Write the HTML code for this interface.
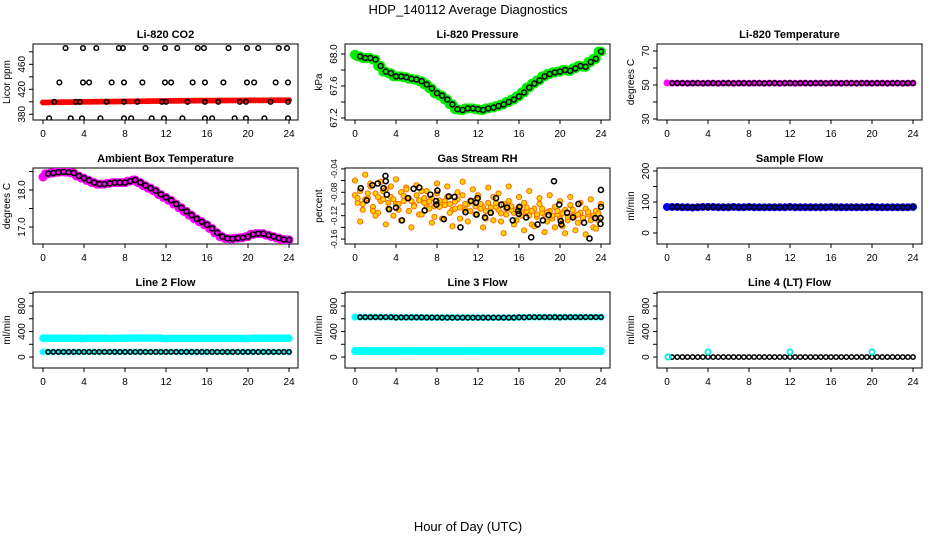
<!DOCTYPE html>
<html><head><meta charset="utf-8">
<style>
html,body{margin:0;padding:0;background:#fff;}
svg{display:block;font-family:"Liberation Sans",sans-serif;}
</style></head>
<body>
<svg id="chart" width="936" height="540" viewBox="0 0 936 540" xmlns="http://www.w3.org/2000/svg">
<text x="468" y="14" text-anchor="middle" font-size="13">HDP_140112  Average Diagnostics</text>
<text x="468" y="531" text-anchor="middle" font-size="13">Hour of Day (UTC)</text>
</svg>
<script>
// shared time categories (hours)
const hours = [0,0.5,1,1.5,2,2.5,3,3.5,4,4.5,5,5.5,6,6.5,7,7.5,8,8.5,9,9.5,10,10.5,11,11.5,12,12.5,13,13.5,14,14.5,15,15.5,16,16.5,17,17.5,18,18.5,19,19.5,20,20.5,21,21.5,22,22.5,23,23.5,24];
const hoursOff = [0.25,0.75,1.25,1.75,2.25,2.75,3.25,3.75,4.25,4.75,5.25,5.75,6.25,6.75,7.25,7.75,8.25,8.75,9.25,9.75,10.25,10.75,11.25,11.75,12.25,12.75,13.25,13.75,14.25,14.75,15.25,15.75,16.25,16.75,17.25,17.75,18.25,18.75,19.25,19.75,20.25,20.75,21.25,21.75,22.25,22.75,23.25,23.75];
const xTicks = [0,4,8,12,16,20,24];

// Li-820 CO2
const co2Band = [399,399,399.2,399.4,399.5,399.5,399.6,399.8,400,400,400.1,400.2,400.3,400.3,400.4,400.5,400.6,400.7,400.8,400.9,401,401.1,401.2,401.3,401.4,401.5,401.6,401.7,401.8,401.8,401.9,401.9,402,402,402,402.1,402.1,402.2,402.2,402.2,402.3,402.3,402.4,402.4,402.4,402.5,402.5,402.5,402.6];
const co2OutHours = [2.2,3.9,5.2,7.4,7.8,10,11.9,13.1,15.1,15.7,18.1,19.9,21,23,23.8, 1.6,3.9,4.5,6.7,7.9,9.7,11.9,12.5,14.6,15.8,17.6,19.9,20.6,22.7,23.9, 1.1,3.2,3.6,6.2,7.9,9.2,11.6,12,14.1,15.8,17.1,19.2,19.8,22.2,23.9, 0.6,2.7,3.8,5.6,7.9,8.6,10.6,11.8,13.6,15.8,16.5,18.7,19.8,21.6,23.9];
const co2OutVals = [486,486,486,486,486,486,486,486,486,486,486,486,486,486,486, 431,431,431,431,431,431,431,431,431,431,431,431,431,431,431, 400,400,400,400,400,400,400,400,400,400,400,400,400,400,400, 373.6,373.6,373.6,373.6,373.6,373.6,373.6,373.6,373.6,373.6,373.6,373.6,373.6,373.6,373.6];

// Li-820 Pressure
const presVals = [67.99,67.97,67.95,67.95,67.93,67.85,67.78,67.76,67.72,67.72,67.71,67.69,67.68,67.66,67.62,67.57,67.51,67.48,67.43,67.37,67.31,67.3,67.32,67.32,67.31,67.3,67.32,67.33,67.35,67.37,67.4,67.43,67.47,67.52,67.58,67.63,67.67,67.72,67.75,67.77,67.78,67.8,67.79,67.82,67.85,67.84,67.9,67.94,68.03];

// Li-820 Temperature
const tempVals = [51.2,51.1,51.1,51.1,51.0,51.1,51.1,51.0,51.1,51.1,51.0,51.1,51.1,51.0,51.1,51.1,51.0,51.1,51.1,51.0,51.1,51.1,51.0,51.1,51.1,51.0,51.1,51.1,51.0,51.1,51.1,51.0,51.1,51.1,51.0,51.1,51.1,51.0,51.1,51.1,51.0,51.1,51.1,51.0,51.1,51.1,51.0,51.1,51.1];

// Ambient Box Temperature
const ambVals = [18.35,18.44,18.46,18.48,18.49,18.48,18.46,18.38,18.32,18.26,18.2,18.16,18.16,18.18,18.2,18.2,18.2,18.24,18.27,18.2,18.12,18.05,17.98,17.88,17.8,17.72,17.62,17.52,17.42,17.32,17.22,17.14,17.06,16.96,16.84,16.74,16.69,16.68,16.7,16.71,16.74,16.8,16.82,16.82,16.78,16.74,16.7,16.66,16.65];

// Gas Stream RH
const rhA = [-0.085,-0.078,-0.092,-0.070,-0.082,-0.095,-0.075,-0.088,-0.100,-0.080,-0.072,-0.095,-0.085,-0.078,-0.105,-0.090,-0.082,-0.098,-0.088,-0.110,-0.092,-0.085,-0.100,-0.095,-0.090,-0.105,-0.098,-0.088,-0.110,-0.100,-0.095,-0.115,-0.105,-0.098,-0.120,-0.108,-0.100,-0.118,-0.112,-0.105,-0.125,-0.110,-0.102,-0.120,-0.115,-0.108,-0.128,-0.112,-0.100];
const rhB = [-0.098,-0.110,-0.090,-0.105,-0.115,-0.092,-0.108,-0.120,-0.100,-0.095,-0.112,-0.102,-0.118,-0.098,-0.108,-0.122,-0.105,-0.095,-0.115,-0.108,-0.125,-0.100,-0.112,-0.118,-0.108,-0.125,-0.115,-0.105,-0.130,-0.118,-0.110,-0.128,-0.120,-0.112,-0.135,-0.122,-0.115,-0.130,-0.125,-0.118,-0.138,-0.128,-0.120,-0.132,-0.125,-0.118,-0.140,-0.128];
const rhC = [-0.060,-0.130,-0.050,-0.065,-0.120,-0.062,-0.135,-0.070,-0.058,-0.128,-0.075,-0.140,-0.068,-0.118,-0.078,-0.132,-0.065,-0.125,-0.070,-0.138,-0.080,-0.062,-0.130,-0.075,-0.085,-0.140,-0.072,-0.128,-0.082,-0.150,-0.070,-0.135,-0.088,-0.145,-0.078,-0.138,-0.090,-0.148,-0.085,-0.140,-0.095,-0.150,-0.088,-0.145,-0.098,-0.152,-0.092,-0.142,-0.100];
const rhD = [-0.090,-0.100,-0.082,-0.112,-0.088,-0.078,-0.098,-0.092,-0.110,-0.086,-0.090,-0.104,-0.094,-0.090,-0.096,-0.104,-0.094,-0.102,-0.100,-0.096,-0.106,-0.110,-0.094,-0.104,-0.100,-0.112,-0.106,-0.098,-0.116,-0.108,-0.104,-0.110,-0.114,-0.106,-0.112,-0.118,-0.108,-0.114,-0.120,-0.112,-0.116,-0.122,-0.110,-0.118,-0.124,-0.114,-0.120,-0.116];
const rhBlackHours = [0.56,1.14,1.70,2.22,2.78,3.33,2.97,3.0,3.1,4.0,4.58,5.16,5.72,6.27,6.80,7.35,7.91,7.94,8.04,8.66,9.15,9.71,10.29,10.78,11.31,11.80,11.86,11.96,12.68,13.24,13.76,14.28,14.84,15.39,15.92,15.98,16.05,16.70,17.19,17.81,18.33,18.89,19.41,19.93,20.07,20.13,20.69,21.27,21.80,22.35,22.88,23.43,23.99,24.0,23.95,23.95];
const rhBlackVals = [-0.073,-0.094,-0.068,-0.065,-0.073,-0.109,-0.052,-0.061,-0.084,-0.106,-0.128,-0.090,-0.074,-0.072,-0.111,-0.084,-0.095,-0.101,-0.077,-0.126,-0.087,-0.088,-0.140,-0.114,-0.095,-0.098,-0.118,-0.090,-0.123,-0.115,-0.090,-0.101,-0.106,-0.128,-0.112,-0.117,-0.105,-0.123,-0.157,-0.135,-0.128,-0.119,-0.061,-0.101,-0.129,-0.135,-0.115,-0.123,-0.100,-0.132,-0.159,-0.124,-0.076,-0.105,-0.124,-0.134];

// Sample Flow
const sampleVals = [84,84,84,83,83,82,83,84,84,84,83,83,83,84,83,83,84,83,83,83,83,83,83,83,84,83,83,83,83,83,83,83,84,83,83,83,83,83,83,83,84,83,83,83,83,83,83,83,84];

// Line 2 Flow
const line2High = [295,295,295,295,295,295,295,293,290,295,295,295,295,292,292,295,295,297,297,297,297,297,297,297,290,292,292,292,292,292,292,292,292,292,292,292,292,292,292,292,290,295,295,295,295,295,295,295,295];
const line2Low = [80,80,80,80,80,80,80,80,80,80,80,80,80,80,80,80,80,80,80,80,80,80,80,80,80,80,80,80,80,80,80,80,80,80,80,80,80,80,80,80,80,80,80,80,80,80,80,80,80];

// Line 3 Flow
const line3High = [625,625,625,625,625,625,625,625,620,622,622,622,622,622,620,620,620,618,618,618,618,618,618,618,618,618,618,618,618,618,618,618,622,622,625,625,625,625,625,625,622,625,625,625,625,625,625,625,625];
const line3Low = [94,94,94,94,94,94,94,94,94,94,94,94,94,94,94,94,94,94,94,94,94,94,94,94,94,94,94,94,94,94,94,94,94,94,94,94,94,94,94,94,94,94,94,94,94,94,94,94,94];

// Line 4 (LT) Flow
const line4Vals = [0,0,0,0,0,0,0,0,0,0,0,0,0,0,0,0,0,0,0,0,0,0,0,0,0,0,0,0,0,0,0,0,0,0,0,0,0,0,0,0,0,0,0,0,0,0,0,0,0];
const line4OutHours = [0.1,4,12,20];
const line4OutVals = [0,80,80,80];

const NS = "http://www.w3.org/2000/svg";
const svg = document.getElementById('chart');
function mk(tag, attrs, parent){
  const e = document.createElementNS(NS, tag);
  for (const k in attrs) e.setAttribute(k, attrs[k]);
  (parent||svg).appendChild(e);
  return e;
}
const colLeft = [33,345,657];
const rowTop = [44,168,292];
const W = 265, H = 76;

function makePanel(col,row,title,ylab,dom,ticks,labels,name,yfs){
  const L = colLeft[col], T = rowTop[row], B = T+H, R = L+W;
  const g = mk('g',{});
  
  
  const xs = h => L + 10 + h*10.25;
  const ys = v => B - (v-dom[0])/(dom[1]-dom[0])*H;
  const t = mk('text',{x:L+W/2,y:T-6,'text-anchor':'middle','font-size':'11','font-weight':'bold'},g);
  t.textContent = title;
  
  
  const box = mk('rect',{x:L,y:T,width:W,height:H,fill:'none',stroke:'#000','stroke-width':1},g);
  
  
  xTicks.forEach(h=>{
    mk('line',{x1:xs(h),x2:xs(h),y1:B,y2:B+4,stroke:'#000'},g);
    const tl = mk('text',{x:xs(h),y:B+17,'text-anchor':'middle','font-size':'10'},g);
    tl.textContent = h;
    
    
  });
  ticks.forEach((v,i)=>{
    const y = ys(v);
    mk('line',{x1:L-4,x2:L,y1:y,y2:y,stroke:'#000'},g);
    if (labels[i] !== '') {
      const yl = mk('text',{x:L-8,y:y,'text-anchor':'middle','font-size':yfs||'10',transform:`rotate(-90 ${L-8} ${y})`},g);
      yl.textContent = labels[i];
      
      
    }
  });
  const yt = mk('text',{x:L-23,y:T+H/2,'text-anchor':'middle','font-size':'10',transform:`rotate(-90 ${L-23} ${T+H/2})`},g);
  yt.textContent = ylab;
  
  
  const clip = mk('clipPath',{id:'clip-'+name},g);
  mk('rect',{x:L,y:T,width:W,height:H},clip);
  const pg = mk('g',{'clip-path':`url(#clip-${name})`},g);
  return {xs,ys,pg};
}
function pts(p,hs,vs,r,fill,stroke,sw,nm,skipFirst){
  vs.forEach((v,i)=>{
    if (v===null || (skipFirst && i===0)) return;
    const c = mk('circle',{cx:p.xs(hs[i]),cy:p.ys(v),r:r,fill:fill,stroke:stroke,'stroke-width':sw},p.pg);
    
    
  });
}

// Panel 1 CO2
let p = makePanel(0,0,'Li-820 CO2','Licor ppm',[370.9,492.5],[380,400,420,440,460,480],['380','','420','','460',''],'co2');
pts(p,hours,co2Band,3,'#ff0000','none',0,'co2-red-point');
pts(p,hoursOff,co2Band.slice(1),3,'#ff0000','none',0,'co2-red-point');
pts(p,co2OutHours,co2OutVals,2.3,'none','#000',1.5,'co2-black-point');

// Panel 2 Pressure
p = makePanel(1,0,'Li-820 Pressure','kPa',[67.175,68.125],[67.2,67.4,67.6,67.8,68.0],['67.2','','67.6','','68.0'],'pressure');
pts(p,hours,presVals,5,'#00ee00','none',0,'pressure-green-point');
pts(p,hoursOff,presVals.slice(1),5,'#00ee00','none',0,'pressure-green-point');
pts(p,hours,presVals,2.5,'none','#111',1.6,'pressure-black-point',true);

// Panel 3 Li-820 Temperature
p = makePanel(2,0,'Li-820 Temperature','degrees C',[29.4,74.1],[30,40,50,60,70],['30','','50','','70'],'li820-temp');
pts(p,hours,tempVals,3.5,'#ff00ff','none',0,'temp-magenta-point');
pts(p,hours,tempVals,2.3,'none','#000',1.5,'temp-black-point',true);

// Panel 4 Ambient
p = makePanel(0,1,'Ambient Box Temperature','degrees C',[16.54,18.595],[17,17.5,18,18.5],['17.0','','18.0',''],'ambient');
pts(p,hours,ambVals,4.5,'#ff00ff','none',0,'ambient-magenta-point');
pts(p,hoursOff,ambVals.slice(1),4.5,'#ff00ff','none',0,'ambient-magenta-point');
pts(p,hours,ambVals,2.5,'none','#000',1.6,'ambient-black-point',true);

// Panel 5 Gas RH
p = makePanel(1,1,'Gas Stream RH','percent',[-0.1684,-0.0385],[-0.16,-0.14,-0.12,-0.10,-0.08,-0.06,-0.04],['-0.16','','-0.12','','-0.08','','-0.04'],'gas-rh','8.5');
pts(p,hours,rhA,2.6,'#ffd400','#ff6a00',1,'rh-orange-point');
pts(p,hoursOff,rhB,2.6,'#ffd400','#ff6a00',1,'rh-orange-point');
pts(p,hours,rhC,2.6,'#ffd400','#ff6a00',1,'rh-orange-point');
pts(p,hoursOff,rhD,2.6,'#ffd400','#ff6a00',1,'rh-orange-point');
pts(p,rhBlackHours,rhBlackVals,2.5,'none','#000',1.6,'rh-black-point');

// Panel 6 Sample Flow
p = makePanel(2,1,'Sample Flow','ml/min',[-35.5,209.7],[0,50,100,150,200],['0','','100','','200'],'sample-flow');
pts(p,hours,sampleVals,4,'#0000ff','none',0,'sample-blue-point');
pts(p,hours,sampleVals,2.3,'none','#000',1.5,'sample-black-point',true);

// Panels 7-9 flows
const flowDom = [-172,1020], flowTicks=[0,200,400,600,800,1000], flowLabels=['0','','400','','800',''];
p = makePanel(0,2,'Line 2 Flow','ml/min',flowDom,flowTicks,flowLabels,'line2');
pts(p,hours,line2High,3.8,'#00ffff','none',0,'line2-cyan-point');
pts(p,hoursOff,line2High.slice(1),3.8,'#00ffff','none',0,'line2-cyan-point');
pts(p,hours,line2Low,3.3,'#00ffff','none',0,'line2-cyan-point');
pts(p,hours,line2Low,2.2,'none','#000',1.5,'line2-black-point',true);

p = makePanel(1,2,'Line 3 Flow','ml/min',flowDom,flowTicks,flowLabels,'line3');
pts(p,hours,line3High,3.5,'#00ffff','none',0,'line3-cyan-point');
pts(p,hours,line3High,2.2,'none','#000',1.5,'line3-black-point',true);
pts(p,hours,line3Low,4,'#00ffff','none',0,'line3-cyan-point');
pts(p,hoursOff,line3Low.slice(1),4,'#00ffff','none',0,'line3-cyan-point');

p = makePanel(2,2,'Line 4 (LT) Flow','ml/min',flowDom,flowTicks,flowLabels,'line4');
pts(p,hours,line4Vals,2.2,'none','#000',1.5,'line4-black-point',true);
pts(p,line4OutHours,line4OutVals,2.6,'none','#00e5e5',1.8,'line4-cyan-point');
</script>
</body></html>
